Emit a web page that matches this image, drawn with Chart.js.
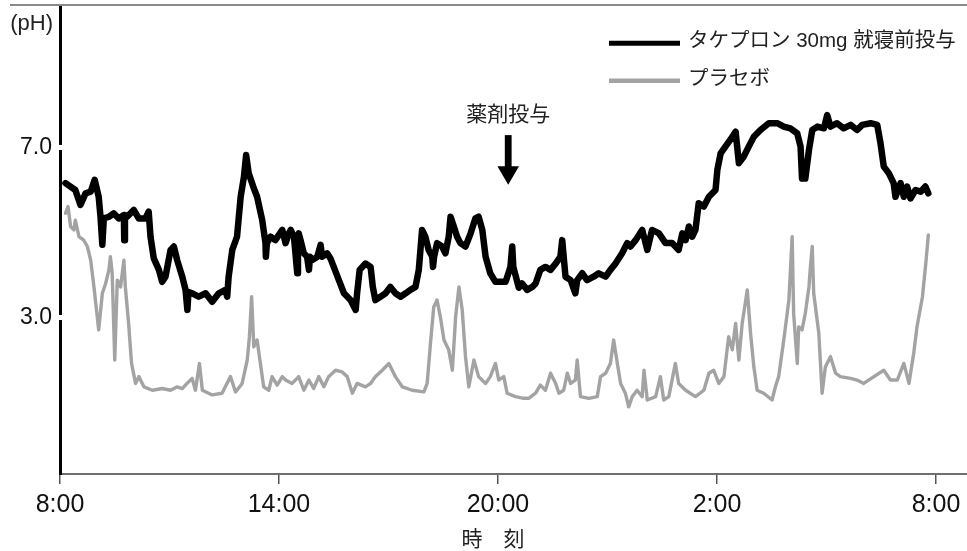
<!DOCTYPE html>
<html><head><meta charset="utf-8">
<script src="https://cdn.jsdelivr.net/npm/chart.js@4.4.1/dist/chart.umd.min.js"></script>
<style>html,body{margin:0;padding:0;background:#fff;overflow:hidden}canvas{display:block}</style>
</head><body>
<canvas id="c" width="967" height="551"></canvas>
<script>
const timeTickHours = [0, 6, 12, 18, 24];
const timeTickLabels = ['8:00', '14:00', '20:00', '2:00', '8:00'];
const phTickValues = [3.0, 7.0];
const seriesNames = ['タケプロン 30mg 就寝前投与', 'プラセボ'];
const yAxisUnit = '(pH)';
const xAxisTitle = '時　刻';
const doseLabel = '薬剤投与';
const doseHour = 12.28;

// hours after 8:00
const takepronHours = [
0.15,0.42,0.56,0.70,0.84,0.95,1.06,1.11,1.16,1.20,
1.34,1.47,1.61,1.75,1.76,1.78,1.84,2.02,2.16,2.34,
2.43,2.48,2.57,2.71,2.80,2.89,3.03,3.12,3.21,3.35,
3.44,3.49,3.52,3.62,3.80,3.99,4.17,4.35,4.53,4.58,
4.62,4.72,4.85,4.95,5.04,5.10,5.17,5.31,5.40,5.54,
5.63,5.64,5.67,5.77,5.90,6.09,6.18,6.27,6.32,6.41,
6.50,6.52,6.54,6.59,6.68,6.77,6.82,6.85,6.91,7.05,
7.14,7.18,7.32,7.41,7.50,7.64,7.78,7.96,8.10,8.14,
8.21,8.37,8.51,8.57,8.64,8.78,8.92,9.05,9.19,9.33,
9.47,9.60,9.74,9.83,9.92,10.01,10.10,10.20,10.22,10.25,
10.33,10.47,10.56,10.65,10.70,10.79,10.88,10.97,11.11,11.25,
11.38,11.47,11.57,11.66,11.79,11.93,12.21,12.34,12.39,12.42,
12.57,12.66,12.80,12.94,13.03,13.16,13.30,13.44,13.58,13.71,
13.76,13.80,13.85,13.99,14.12,14.17,14.31,14.44,14.62,14.76,
14.95,15.08,15.22,15.40,15.54,15.63,15.77,15.95,16.00,16.09,
16.22,16.41,16.59,16.77,16.95,17.05,17.14,17.23,17.32,17.41,
17.50,17.64,17.78,17.96,18.01,18.10,18.23,18.42,18.51,18.60,
18.73,18.87,19.01,19.19,19.42,19.65,19.83,20.01,20.20,20.29,
20.33,20.42,20.52,20.61,20.75,20.93,21.02,21.11,21.29,21.47,
21.66,21.84,21.98,22.21,22.39,22.48,22.57,22.71,22.84,22.89,
23.03,23.12,23.21,23.30,23.44,23.58,23.71,23.79
];
const takepronPH = [
6.16,6.00,5.65,5.92,5.96,6.24,5.84,5.37,4.71,5.33,
5.37,5.45,5.33,5.41,4.82,5.41,5.37,5.53,5.33,5.33,
5.49,4.90,4.39,4.12,3.84,3.96,4.59,4.67,4.35,3.96,
3.65,3.18,3.60,3.57,3.49,3.57,3.37,3.57,3.65,3.49,
3.96,4.59,4.90,5.84,6.31,6.82,6.39,6.04,5.84,5.29,
4.75,4.43,4.75,4.90,4.82,5.06,4.75,4.98,5.06,4.90,
4.04,4.90,4.98,4.82,4.51,4.43,4.12,4.43,4.35,4.43,
4.71,4.43,4.51,4.39,4.19,3.88,3.57,3.41,3.18,3.57,
4.12,4.27,4.19,3.72,3.41,3.49,3.57,3.72,3.57,3.49,
3.57,3.65,3.72,4.12,5.06,4.90,4.59,4.43,4.19,4.43,
4.75,4.67,4.51,4.90,5.37,5.14,4.90,4.75,4.67,4.98,
5.33,5.37,5.06,4.43,4.04,3.84,3.84,4.19,4.67,4.19,
3.70,3.80,3.65,3.72,3.80,4.12,4.19,4.12,4.27,4.43,
4.82,4.43,3.96,3.88,3.57,3.88,4.04,3.88,3.96,4.04,
3.96,4.12,4.27,4.51,4.75,4.67,4.82,5.06,4.90,4.59,
5.06,4.98,4.75,4.75,4.59,4.98,4.82,5.14,4.90,5.06,
5.69,5.61,5.84,6.00,6.47,6.86,7.02,7.25,7.37,6.63,
6.78,7.02,7.25,7.41,7.57,7.57,7.49,7.45,7.33,7.02,
6.27,6.27,6.94,7.41,7.49,7.45,7.76,7.49,7.57,7.45,
7.53,7.41,7.53,7.57,7.53,7.10,6.55,6.39,6.16,5.84,
6.16,5.84,6.08,5.80,6.00,5.96,6.08,5.92
];

const placeboHours = [
0.15,0.22,0.29,0.38,0.42,0.52,0.65,0.75,0.84,0.93,
1.02,1.06,1.16,1.25,1.34,1.38,1.43,1.50,1.57,1.66,
1.75,1.79,1.88,1.96,2.07,2.16,2.30,2.53,2.80,3.03,
3.21,3.35,3.48,3.62,3.71,3.82,3.90,4.17,4.44,4.67,
4.81,4.99,5.13,5.19,5.25,5.31,5.40,5.49,5.58,5.72,
5.81,5.95,6.09,6.18,6.36,6.54,6.68,6.82,6.95,7.09,
7.23,7.36,7.55,7.73,7.87,8.01,8.14,8.37,8.51,8.64,
8.83,9.01,9.19,9.38,9.65,9.97,10.06,10.15,10.24,10.33,
10.42,10.52,10.65,10.75,10.84,10.93,11.02,11.11,11.20,11.34,
11.47,11.66,11.79,11.93,12.02,12.16,12.25,12.48,12.71,12.84,
13.03,13.16,13.30,13.44,13.58,13.67,13.80,13.90,13.99,14.12,
14.17,14.26,14.49,14.72,14.81,14.95,15.08,15.17,15.27,15.36,
15.49,15.58,15.68,15.81,15.95,16.00,16.09,16.32,16.45,16.54,
16.68,16.86,16.95,17.14,17.41,17.64,17.78,17.91,18.05,18.19,
18.32,18.42,18.51,18.60,18.69,18.83,18.92,19.01,19.10,19.28,
19.51,19.60,19.69,19.83,19.97,20.06,20.10,20.20,20.24,20.33,
20.42,20.52,20.56,20.61,20.65,20.79,20.88,20.97,21.11,21.25,
21.38,21.66,21.84,22.02,22.30,22.57,22.75,22.94,23.12,23.26,
23.39,23.48,23.63,23.73,23.79
];
const placeboPH = [
5.45,5.61,5.14,5.06,5.29,4.90,4.82,4.67,4.35,3.72,
3.02,2.71,3.57,3.80,4.12,4.43,4.04,2.00,3.88,3.72,
4.35,3.72,2.86,1.92,1.45,1.61,1.37,1.29,1.33,1.29,
1.37,1.33,1.45,1.57,1.29,1.92,1.29,1.18,1.22,1.61,
1.25,1.45,2.00,2.55,3.49,2.31,2.47,1.92,1.37,1.29,
1.61,1.41,1.61,1.53,1.45,1.61,1.29,1.53,1.33,1.61,
1.37,1.61,1.76,1.72,1.61,1.22,1.45,1.37,1.45,1.61,
1.76,1.92,1.61,1.37,1.29,1.25,1.45,2.39,3.25,3.41,
3.02,2.47,2.24,1.76,3.02,3.72,3.18,2.08,1.37,2.00,
1.61,1.45,1.61,1.92,1.53,1.61,1.22,1.14,1.10,1.10,
1.22,1.41,1.29,1.69,1.45,1.22,1.29,1.69,1.45,1.53,
2.00,1.14,1.10,1.14,1.61,1.69,1.92,2.47,1.92,1.45,
1.22,0.90,1.14,1.29,1.14,1.76,1.06,1.14,1.61,1.06,
1.14,1.92,1.45,1.29,1.14,1.29,1.69,1.76,1.45,1.61,
2.55,2.24,2.86,2.00,2.86,3.65,2.63,1.84,1.29,1.22,
1.06,1.37,1.61,2.47,3.41,4.90,3.10,1.92,2.78,2.71,
3.10,3.72,4.19,4.67,3.57,2.63,1.22,1.84,2.08,1.69,
1.61,1.57,1.53,1.45,1.61,1.76,1.53,1.53,1.92,1.45,
2.16,2.78,3.49,4.35,4.94
];

const BLACK = '#000000';
const GRAY = '#a3a3a3';
const latin = '"Liberation Sans", "Noto Sans CJK JP", sans-serif';
const cjk = '"Noto Sans CJK JP", sans-serif';

const decorations = {
  id: 'decorations',
  afterDraw(chart) {
    const {ctx, chartArea, scales: {x, y}} = chart;
    ctx.save();
    // top rule
    ctx.strokeStyle = '#8a8a8a';
    ctx.lineWidth = 2;
    ctx.beginPath();
    ctx.moveTo(10, chartArea.top);
    ctx.lineTo(chart.width, chartArea.top);
    ctx.stroke();
    // small gaps in the y axis at the tick values
    ctx.fillStyle = '#ffffff';
    phTickValues.forEach(v => {
      const py = y.getPixelForValue(v);
      ctx.fillRect(chartArea.left - 3, py - 2.5, 6, 5);
    });
    // unit label
    ctx.fillStyle = '#222';
    ctx.font = '22px ' + latin;
    ctx.textAlign = 'right';
    ctx.textBaseline = 'middle';
    ctx.fillText(yAxisUnit, chartArea.left - 7, 24);
    // x axis title
    ctx.font = '21px ' + cjk;
    ctx.textAlign = 'center';
    ctx.fillText(xAxisTitle, 493, 538);
    // dosing arrow
    const ax = x.getPixelForValue(doseHour);
    const yTop = y.getPixelForValue(7.29);
    const yTip = y.getPixelForValue(6.12);
    ctx.fillStyle = BLACK;
    ctx.fillRect(ax - 3.4, yTop, 6.8, yTip - yTop - 16);
    ctx.beginPath();
    ctx.moveTo(ax - 10.8, yTip - 18.5);
    ctx.lineTo(ax + 10.8, yTip - 18.5);
    ctx.lineTo(ax, yTip);
    ctx.closePath();
    ctx.fill();
    ctx.fillStyle = '#222';
    ctx.font = '21px ' + cjk;
    ctx.fillText(doseLabel, ax, y.getPixelForValue(7.82));
    // legend
    const items = [[seriesNames[0], BLACK, 5, 43.3], [seriesNames[1], GRAY, 4.5, 80.7]];
    items.forEach(([name, color, w, ly]) => {
      ctx.strokeStyle = color;
      ctx.lineWidth = w;
      ctx.beginPath();
      ctx.moveTo(609, ly);
      ctx.lineTo(680, ly);
      ctx.stroke();
      ctx.fillStyle = '#222';
      ctx.font = '20.5px ' + latin;
      ctx.textAlign = 'left';
      ctx.textBaseline = 'middle';
      ctx.fillText(name, 688, ly - 1.5);
    });
    ctx.restore();
  }
};

new Chart(document.getElementById('c'), {
  type: 'line',
  data: {
    datasets: [
      {
        label: seriesNames[0],
        data: takepronHours.map((h, i) => ({x: h, y: takepronPH[i]})),
        borderColor: BLACK, borderWidth: 6.5, pointRadius: 0, tension: 0,
        borderJoinStyle: 'round', borderCapStyle: 'round', fill: false
      },
      {
        label: seriesNames[1],
        data: placeboHours.map((h, i) => ({x: h, y: placeboPH[i]})),
        borderColor: GRAY, borderWidth: 3.4, pointRadius: 0, tension: 0,
        borderJoinStyle: 'round', borderCapStyle: 'round', fill: false
      }
    ]
  },
  options: {
    responsive: false,
    animation: false,
    devicePixelRatio: 1,
    layout: {padding: {top: 5, right: 0, bottom: 0, left: 0}},
    plugins: {legend: {display: false}, tooltip: {enabled: false}},
    scales: {
      x: {
        type: 'linear', min: 0, max: 24.85,
        afterFit(s) { s.height = 77; s.paddingLeft = 0; s.paddingRight = 0; },
        afterBuildTicks(s) { s.ticks = timeTickHours.map(v => ({value: v})); },
        ticks: {
          autoSkip: false, maxRotation: 0, padding: 6, color: '#111',
          font: {family: latin, size: 25},
          callback: (v, i) => timeTickLabels[i]
        },
        grid: {drawOnChartArea: false, drawTicks: true, tickLength: 10, color: '#555', tickColor: '#555', lineWidth: 1.5},
        border: {display: true, color: '#6e6e6e', width: 2}
      },
      y: {
        type: 'linear', min: -0.68, max: 10.35,
        afterFit(s) { s.width = 60; s.paddingTop = 0; s.paddingBottom = 0; },
        afterBuildTicks(s) { s.ticks = phTickValues.map(v => ({value: v})); },
        ticks: {
          padding: 8, color: '#111',
          font: {family: latin, size: 23},
          callback: v => Number(v).toFixed(1)
        },
        grid: {display: false, drawTicks: false},
        border: {display: true, color: BLACK, width: 3}
      }
    }
  },
  plugins: [decorations]
});
</script>
</body></html>
